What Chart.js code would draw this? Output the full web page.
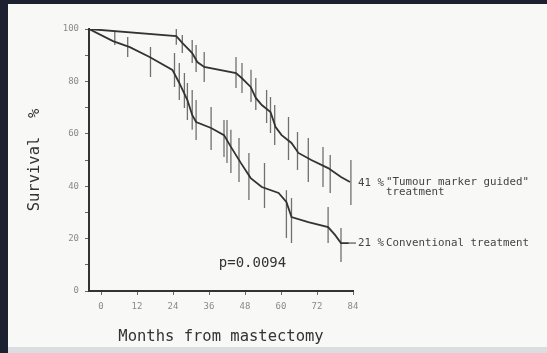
<!DOCTYPE html>
<html>
<head>
<meta charset="utf-8">
<script src="https://cdn.jsdelivr.net/npm/chart.js@4/dist/chart.umd.min.js"></script>
<style>
  html, body { margin: 0; padding: 0; background: #1d2030; }
  canvas { display: block; }
</style>
</head>
<body>
<canvas id="c" width="547" height="353"></canvas>
<script>
// survival curves (months, % surviving)
const guidedMonths   = [-4, 25.1, 27.1, 30.4, 32.1, 34.4, 45.0, 46.9, 49.9, 51.6, 53.6, 56.5, 58.2, 60.2, 63.5, 65.8, 70.1, 75.7, 80.0, 83.0];
const guidedSurvival = [100, 97.3, 94.7, 90.8, 87.4, 85.5, 83.2, 81.3, 77.9, 73.7, 71.0, 68.3, 62.6, 59.5, 56.5, 52.7, 50.0, 46.9, 43.5, 41.6];

const convMonths   = [-4, 4.0, 9.6, 16.2, 23.8, 26.1, 28.8, 30.4, 31.7, 36.7, 41.0, 43.3, 46.6, 49.9, 53.6, 59.2, 61.8, 63.5, 69.1, 75.7, 78.0, 80.0, 82.6];
const convSurvival = [100, 95.4, 93.1, 89.3, 84.4, 79.4, 72.9, 67.2, 64.5, 62.2, 59.5, 55.0, 48.9, 43.1, 39.7, 37.4, 34.0, 28.2, 26.3, 24.4, 21.4, 18.3, 18.3];

// confidence bars
const guidedBarMonths = [25.1, 27.1, 30.4, 31.7, 34.4, 45.0, 47.0, 50.0, 51.6, 55.2, 56.5, 57.9, 62.5, 65.5, 69.1, 74.0, 76.4, 83.3];
const guidedBarHigh   = [100, 97.7, 95.8, 93.9, 91.2, 89.3, 87.0, 84.4, 81.3, 76.7, 74.0, 71.0, 66.4, 60.7, 58.4, 55.0, 51.9, 50.0];
const guidedBarLow    = [94.0, 90.8, 87.0, 83.6, 79.8, 77.5, 75.6, 72.1, 69.1, 64.1, 60.3, 55.7, 50.0, 46.2, 41.6, 39.7, 37.4, 32.8];

const convBarMonths = [4.6, 8.9, 16.5, 24.5, 26.1, 27.8, 28.8, 30.4, 31.7, 36.7, 41.0, 42.0, 43.3, 46.0, 49.3, 54.5, 61.8, 63.5, 75.7, 80.0];
const convBarHigh   = [98.9, 96.9, 93.1, 90.8, 87.0, 83.2, 79.4, 76.7, 72.9, 70.2, 65.3, 65.3, 61.5, 58.4, 52.7, 48.9, 38.5, 35.5, 32.1, 24.0];
const convBarLow    = [93.9, 89.3, 81.7, 77.9, 72.9, 69.8, 65.3, 61.5, 57.6, 53.8, 51.1, 48.9, 45.0, 41.6, 34.7, 31.7, 20.2, 18.3, 18.3, 11.1];

const X_TICKS = [0, 12, 24, 36, 48, 60, 72, 84];
const Y_TICKS = [0, 10, 20, 30, 40, 50, 60, 70, 80, 90, 100];
const Y_LABELS = [0, 20, 40, 60, 80, 100];

const guidedLabel = ['41 %', '"Tumour marker guided"', 'treatment'];
const convLabel = ['21 %', 'Conventional treatment'];
const pValue = 'p=0.0094';

const INK = '#333';
const BAR = '#707070';
const MONO = '"DejaVu Sans Mono", "Liberation Mono", monospace';

const pts = (xs, ys) => xs.map((x, i) => ({ x, y: ys[i] }));
const bars = (xs, lo, hi) => xs.flatMap((x, i) => [{ x, y: lo[i] }, { x, y: hi[i] }, { x, y: null }]);

const frame = {
  id: 'frame',
  beforeDraw(chart) {
    const { ctx, width, height } = chart;
    ctx.save();
    ctx.fillStyle = '#1d2030';
    ctx.fillRect(0, 0, width, height);
    ctx.fillStyle = '#f8f8f6';
    ctx.fillRect(8, 4, width - 8, height - 4);
    ctx.fillStyle = '#dcdde0';
    ctx.fillRect(8, 347, width - 8, height - 347);
    ctx.restore();
  },
  afterDraw(chart) {
    const { ctx, chartArea: a, scales: { x, y } } = chart;
    ctx.save();
    ctx.fillStyle = '#444';
    ctx.textBaseline = 'middle';
    ctx.font = '10.8px ' + MONO;
    const gy = y.getPixelForValue(guidedSurvival[guidedSurvival.length - 1]);
    ctx.fillText(guidedLabel[0], a.right + 5, gy + 1);
    ctx.fillText(guidedLabel[1], a.right + 33, gy);
    ctx.fillText(guidedLabel[2], a.right + 33, gy + 10);
    const cy = y.getPixelForValue(convSurvival[convSurvival.length - 1]);
    ctx.fillText(convLabel[0], a.right + 5, cy);
    ctx.fillText(convLabel[1], a.right + 33, cy);
    // small leader off the conventional curve
    ctx.strokeStyle = INK;
    ctx.lineWidth = 1;
    ctx.beginPath();
    ctx.moveTo(x.getPixelForValue(convMonths[convMonths.length - 1]), cy);
    ctx.lineTo(a.right + 3, cy);
    ctx.stroke();
    ctx.font = '14px ' + MONO;
    ctx.fillStyle = INK;
    ctx.textAlign = 'center';
    ctx.fillText(pValue, x.getPixelForValue(50.5), y.getPixelForValue(10.5));
    ctx.restore();
  }
};

new Chart(document.getElementById('c'), {
  type: 'line',
  data: {
    datasets: [
      { data: pts(guidedMonths, guidedSurvival), borderColor: INK, borderWidth: 1.8 },
      { data: pts(convMonths, convSurvival), borderColor: INK, borderWidth: 1.8 },
      { data: bars(guidedBarMonths, guidedBarLow, guidedBarHigh), borderColor: BAR, borderWidth: 1.3 },
      { data: bars(convBarMonths, convBarLow, convBarHigh), borderColor: BAR, borderWidth: 1.3 }
    ]
  },
  options: {
    responsive: false,
    animation: false,
    devicePixelRatio: 1,
    spanGaps: false,
    elements: { point: { radius: 0 }, line: { tension: 0 } },
    layout: { padding: { top: 29, right: 194, left: 0, bottom: 0 } },
    plugins: { legend: { display: false }, tooltip: { enabled: false } },
    scales: {
      x: {
        type: 'linear', min: -4, max: 84,
        afterBuildTicks: s => { s.ticks = X_TICKS.map(v => ({ value: v })); },
        afterFit: s => { s.height = 62; },
        grid: { drawOnChartArea: false, tickLength: 4, color: '#666' },
        border: { display: true, color: INK, width: 2 },
        ticks: { color: '#8a8a8a', font: { family: MONO, size: 9 }, padding: 6, maxRotation: 0 },
        title: { display: true, text: 'Months from mastectomy', color: INK, font: { family: MONO, size: 15.5 }, padding: { bottom: 7 } }
      },
      y: {
        min: 0, max: 100,
        afterBuildTicks: s => { s.ticks = Y_TICKS.map(v => ({ value: v })); },
        afterFit: s => { s.width = 89; },
        grid: { drawOnChartArea: false, tickLength: 4, color: '#666' },
        border: { display: true, color: INK, width: 2 },
        ticks: { color: '#8a8a8a', font: { family: MONO, size: 9 }, padding: 6,
                 callback: v => Y_LABELS.includes(v) ? v : '' },
        title: { display: true, text: 'Survival  %', color: INK, font: { family: MONO, size: 15.5 }, padding: { top: 26 } }
      }
    }
  },
  plugins: [frame]
});
</script>
</body>
</html>
